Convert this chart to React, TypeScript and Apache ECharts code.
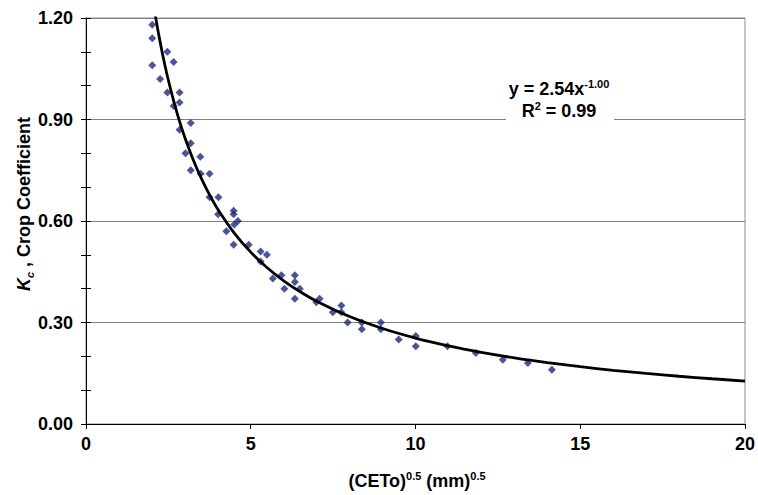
import React, { useEffect, useRef } from "react";
import * as echarts from "echarts";

// Observed crop coefficient points: x = (CETo)^0.5, y = Kc
const KC_X = [
  2.01, 2.01, 2.01, 2.25, 2.47, 2.66, 2.47, 2.84, 2.66, 2.84,
  3.18, 2.84, 3.18, 3.02, 3.47, 3.18, 3.48, 3.75, 3.75, 4.02,
  4.01, 4.48, 4.48, 4.61, 4.5, 4.26, 4.48, 4.94, 5.3, 5.49,
  5.3, 5.93, 5.67, 6.34, 6.34, 6.02, 6.49, 6.34, 6.99, 7.09,
  7.49, 7.75, 7.75, 7.94, 8.37, 8.37, 8.95, 8.95, 9.49, 10.01,
  10.01, 10.97, 11.83, 12.65, 13.41, 14.14,
];
const KC_Y = [
  1.18, 1.14, 1.06, 1.02, 1.1, 1.07, 0.98, 0.98, 0.94, 0.95,
  0.89, 0.87, 0.83, 0.8, 0.79, 0.75, 0.74, 0.74, 0.67, 0.67,
  0.62, 0.63, 0.62, 0.6, 0.59, 0.57, 0.53, 0.53, 0.51, 0.5,
  0.48, 0.44, 0.43, 0.44, 0.42, 0.4, 0.4, 0.37, 0.36, 0.37,
  0.33, 0.35, 0.33, 0.3, 0.3, 0.28, 0.3, 0.28, 0.25, 0.26,
  0.23, 0.23, 0.21, 0.19, 0.18, 0.16,
];

// Power trend line y = a * x^b as reported on the chart
const FIT_A = 2.54;
const FIT_B = -1.0;
const FIT_X = [
  2.0, 2.1, 2.2, 2.3, 2.4, 2.5, 2.65, 2.8, 3.0, 3.25, 3.5, 3.75, 4.0,
  4.5, 5.0, 5.5, 6.0, 6.5, 7.0, 8.0, 9.0, 10.0, 11.0, 12.0, 13.0, 14.0,
  15.0, 16.0, 17.0, 18.0, 19.0, 20.0,
];

const X_TICKS = [0, 5, 10, 15, 20];
const Y_TICKS = [0, 0.3, 0.6, 0.9, 1.2];

const FONT = "'Liberation Sans', Arial, sans-serif";

export default function App() {
  const ref = useRef<HTMLDivElement>(null);

  useEffect(() => {
    if (!ref.current) return;
    const chart = echarts.init(ref.current, undefined, { renderer: "svg" });

    const points = KC_X.map((x, i) => [x, KC_Y[i]]);
    const fit = FIT_X.map((x) => [x, FIT_A * Math.pow(x, FIT_B)]);

    const yMin = Y_TICKS[0];
    const yMax = Y_TICKS[Y_TICKS.length - 1];
    const yInt = Y_TICKS[1] - Y_TICKS[0];
    const xMin = X_TICKS[0];
    const xMax = X_TICKS[X_TICKS.length - 1];
    const xInt = X_TICKS[1] - X_TICKS[0];

    const main = { fontFamily: FONT, fontWeight: "bold", fontSize: 18, lineHeight: 22, fill: "#000" };
    const sup = { fontFamily: FONT, fontWeight: "bold", fontSize: 11, lineHeight: 12, verticalAlign: "top", fill: "#000" };

    const option: any = {
      animation: false,
      backgroundColor: "#ffffff",
      textStyle: { fontFamily: FONT },
      grid: {
        left: 86,
        right: 11,
        top: 18,
        bottom: 71,
        show: true,
        borderColor: "#8c8c8c",
        borderWidth: 1,
        backgroundColor: "transparent",
      },
      xAxis: {
        type: "value",
        min: xMin,
        max: xMax,
        interval: xInt,
        axisLine: { show: true, onZero: false, lineStyle: { color: "#000", width: 1 } },
        axisTick: { show: true, inside: false, length: 5, lineStyle: { color: "#000" } },
        axisLabel: {
          margin: 11,
          color: "#000",
          fontFamily: FONT,
          fontWeight: "bold",
          fontSize: 18,
        },
        splitLine: { show: false },
      },
      yAxis: [
        {
          type: "value",
          position: "left",
          min: yMin,
          max: yMax,
          interval: yInt,
          axisLine: { show: true, onZero: false, lineStyle: { color: "#000", width: 1 } },
          axisTick: { show: true, inside: false, length: 5, lineStyle: { color: "#000" } },
          minorTick: { show: true, splitNumber: 3, length: 5, lineStyle: { color: "#000" } },
          axisLabel: {
            margin: 13,
            color: "#000",
            fontFamily: FONT,
            fontWeight: "bold",
            fontSize: 18,
            formatter: (v: number) => v.toFixed(2),
          },
          splitLine: { show: true, lineStyle: { color: "#808080", width: 1 } },
        },
        {
          type: "value",
          position: "left",
          min: yMin,
          max: yMax,
          interval: yInt,
          axisLine: { show: false },
          axisTick: { show: true, inside: true, length: 5, lineStyle: { color: "#000" } },
          minorTick: { show: true, splitNumber: 3, length: 5, lineStyle: { color: "#000" } },
          axisLabel: { show: false },
          splitLine: { show: false },
        },
      ],
      series: [
        {
          type: "scatter",
          data: points,
          symbol: "diamond",
          symbolSize: 8,
          itemStyle: { color: "#1c2a80" },
          z: 3,
        },
        {
          type: "line",
          data: fit,
          showSymbol: false,
          symbol: "none",
          smooth: 0.3,
          clip: true,
          lineStyle: { color: "#000", width: 2.8 },
          z: 4,
        },
      ],
      graphic: [
        {
          type: "rect",
          z: 100,
          shape: { x: 506, y: 72, width: 108, height: 54 },
          style: { fill: "#ffffff" },
        },
        {
          type: "text",
          z: 101,
          x: 559,
          y: 89,
          style: {
            text: "{m|y = 2.54x}{s|-1.00}",
            align: "center",
            verticalAlign: "middle",
            rich: { m: main, s: sup },
          },
        },
        {
          type: "text",
          z: 101,
          x: 559,
          y: 111,
          style: {
            text: "{m|R}{s|2}{m| = 0.99}",
            align: "center",
            verticalAlign: "middle",
            rich: { m: main, s: sup },
          },
        },
        {
          type: "text",
          z: 101,
          x: 417,
          y: 481,
          style: {
            text: "{m|(CETo)}{s|0.5}{m| (mm)}{s|0.5}",
            align: "center",
            verticalAlign: "middle",
            rich: { m: main, s: sup },
          },
        },
        {
          type: "text",
          z: 101,
          x: 24,
          y: 204,
          rotation: Math.PI / 2,
          style: {
            text: "{k|K}{c|c}{m| , Crop Coefficient}",
            align: "center",
            verticalAlign: "middle",
            rich: {
              k: { ...main, fontStyle: "italic" },
              c: { ...sup, fontStyle: "italic", verticalAlign: "bottom" },
              m: main,
            },
          },
        },
      ],
    };

    chart.setOption(option);
    return () => chart.dispose();
  }, []);

  return (
    <div
      ref={ref}
      style={{ position: "fixed", left: 0, top: 0, width: 758, height: 495, background: "#fff" }}
    />
  );
}
